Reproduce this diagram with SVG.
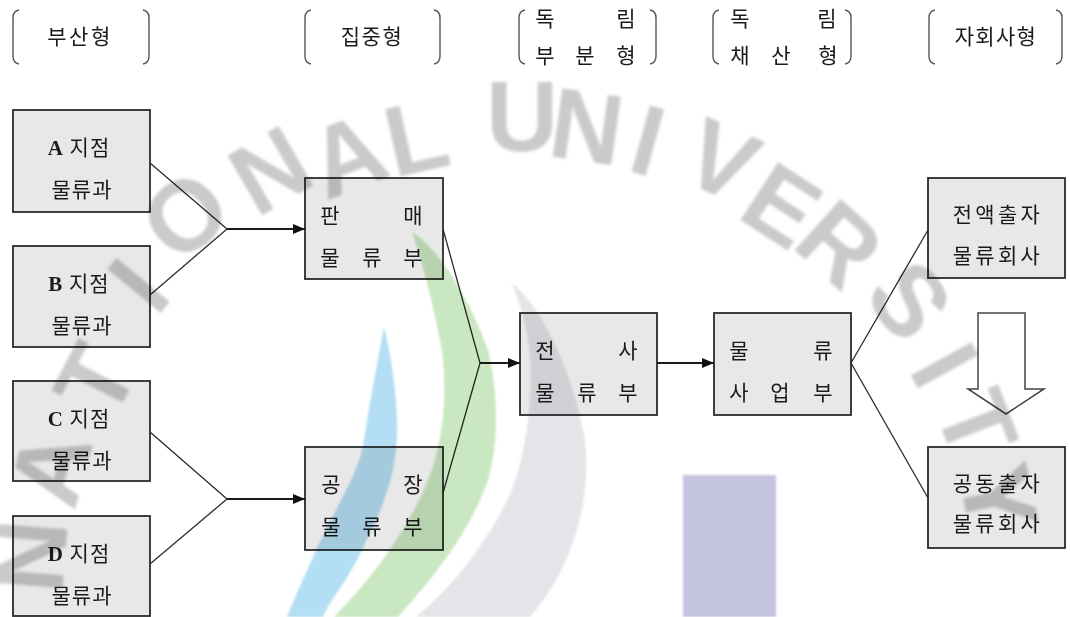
<svg xmlns="http://www.w3.org/2000/svg" width="1070" height="617" viewBox="0 0 1070 617">
  <defs>
    <style>
      .box { fill: #e8e8e8; stroke: #2b2b2b; stroke-width: 1.8; }
      .t { font-family: "Noto Sans CJK KR", "Noto Sans", sans-serif; font-size: 21px; fill: #1a1a1a; }
      .lat { font-family: "Liberation Serif", serif; font-weight: bold; }
      .mid { text-anchor: middle; }
      .brk { fill: none; stroke: #555; stroke-width: 1.4; }
      .ln { fill: none; stroke: #2b2b2b; stroke-width: 1.3; }
      .arr { fill: none; stroke: #1a1a1a; stroke-width: 1.8; marker-end: url(#head); }
      .wm { font-family: "Liberation Sans", sans-serif; font-weight: bold; font-size: 100px; fill: #cacaca; text-anchor: middle; }
    </style>
    <marker id="head" viewBox="0 0 12 10" refX="12" refY="5" markerWidth="12" markerHeight="10" markerUnits="userSpaceOnUse" orient="auto">
      <path d="M0,0 L12,5 L0,10 Z" fill="#111"/>
    </marker>
    <filter id="soft" x="-10%" y="-10%" width="120%" height="120%">
      <feGaussianBlur stdDeviation="1.6"/>
    </filter>
    <filter id="soft2" x="-10%" y="-10%" width="120%" height="120%">
      <feGaussianBlur stdDeviation="1"/>
    </filter>
  </defs>

  <rect width="1070" height="617" fill="#ffffff"/>

  <!-- column headings -->
  <g id="headings">
    <g id="head-dispersed">
      <path class="brk" d="M19,10 Q13,11 13,18 L13,56 Q13,63 19,64"/>
      <path class="brk" d="M143,10 Q149,11 149,18 L149,56 Q149,63 143,64"/>
      <text class="t mid" x="80" y="43.5" letter-spacing="2.5">부산형</text>
    </g>
    <g id="head-centralized">
      <path class="brk" d="M311,10 Q305,11 305,18 L305,56 Q305,63 311,64"/>
      <path class="brk" d="M434,10 Q440,11 440,18 L440,56 Q440,63 434,64"/>
      <text class="t mid" x="372" y="43.5" letter-spacing="1.5">집중형</text>
    </g>
    <g id="head-independent-division">
      <path class="brk" d="M525,10 Q519,11 519,18 L519,56 Q519,63 525,64"/>
      <path class="brk" d="M650,10 Q656,11 656,18 L656,56 Q656,63 650,64"/>
      <text class="t mid" x="545 626" y="25.5">독림</text>
      <text class="t mid" x="545 585 626" y="62.5">부분형</text>
    </g>
    <g id="head-independent-profit">
      <path class="brk" d="M719,10 Q713,11 713,18 L713,56 Q713,63 719,64"/>
      <path class="brk" d="M845,10 Q851,11 851,18 L851,56 Q851,63 845,64"/>
      <text class="t mid" x="740 827" y="25.5">독림</text>
      <text class="t mid" x="740 781 828" y="62.5">채산형</text>
    </g>
    <g id="head-subsidiary">
      <path class="brk" d="M935,10 Q929,11 929,18 L929,56 Q929,63 935,64"/>
      <path class="brk" d="M1056,10 Q1062,11 1062,18 L1062,56 Q1062,63 1056,64"/>
      <text class="t mid" x="996" y="43.5" letter-spacing="1.3">자회사형</text>
    </g>
  </g>

  <!-- branch logistics sections -->
  <g id="branch-a">
    <rect class="box" x="13" y="110" width="137" height="102"/>
    <text class="t mid" x="79" y="154.5" letter-spacing="1"><tspan class="lat">A</tspan> 지점</text>
    <text class="t mid" x="82" y="196.5" letter-spacing="1">물류과</text>
  </g>
  <g id="branch-b">
    <rect class="box" x="13" y="246" width="137" height="101"/>
    <text class="t mid" x="79" y="290.5" letter-spacing="1"><tspan class="lat">B</tspan> 지점</text>
    <text class="t mid" x="82" y="332.5" letter-spacing="1">물류과</text>
  </g>
  <g id="branch-c">
    <rect class="box" x="13" y="381" width="137" height="100"/>
    <text class="t mid" x="79" y="425.5" letter-spacing="1"><tspan class="lat">C</tspan> 지점</text>
    <text class="t mid" x="82" y="467.5" letter-spacing="1">물류과</text>
  </g>
  <g id="branch-d">
    <rect class="box" x="13" y="516" width="137" height="100"/>
    <text class="t mid" x="79" y="560.5" letter-spacing="1"><tspan class="lat">D</tspan> 지점</text>
    <text class="t mid" x="82" y="602.5" letter-spacing="1">물류과</text>
  </g>

  <!-- centralized departments -->
  <g id="sales-logistics">
    <rect class="box" x="305" y="178" width="138" height="101"/>
    <text class="t mid" x="330 413" y="222.5">판매</text>
    <text class="t mid" x="330 372 413" y="264.5">물류부</text>
  </g>
  <g id="plant-logistics">
    <rect class="box" x="305" y="447" width="138" height="103"/>
    <text class="t mid" x="331 413" y="491.5">공장</text>
    <text class="t mid" x="331 372 413" y="533.5">물류부</text>
  </g>

  <!-- company-wide and business division -->
  <g id="corporate-logistics">
    <rect class="box" x="520" y="313" width="137" height="102"/>
    <text class="t mid" x="545 628" y="357.5">전사</text>
    <text class="t mid" x="545 587 628" y="399.5">물류부</text>
  </g>
  <g id="logistics-business">
    <rect class="box" x="714" y="313" width="137" height="102"/>
    <text class="t mid" x="739 823" y="357.5">물류</text>
    <text class="t mid" x="739 780 823" y="399.5">사업부</text>
  </g>

  <!-- subsidiaries -->
  <g id="wholly-owned">
    <rect class="box" x="928" y="178" width="137" height="100"/>
    <text class="t mid" x="998" y="221.5" letter-spacing="3.3">전액출자</text>
    <text class="t mid" x="998" y="262.5" letter-spacing="3.3">물류회사</text>
  </g>
  <g id="joint-venture">
    <rect class="box" x="928" y="447" width="137" height="101"/>
    <text class="t mid" x="998" y="490.5" letter-spacing="3.3">공동출자</text>
    <text class="t mid" x="998" y="530.5" letter-spacing="3.3">물류회사</text>
  </g>

  <!-- transition arrow between subsidiary types -->
  <g id="transition-arrow">
    <path d="M978,313 L1025,313 L1025,389 L1044,389 L1006,414 L968,389 L978,389 Z" fill="#ffffff" stroke="#444" stroke-width="1.5" stroke-linejoin="miter"/>
  </g>

  <!-- connectors -->
  <g id="connectors">
    <path class="ln" d="M150,163 L227,229 M150,295 L227,229"/>
    <path class="arr" d="M227,229 L305,229"/>
    <path class="ln" d="M150,432 L227,499 M150,564 L227,499"/>
    <path class="arr" d="M227,499 L305,499"/>
    <path class="ln" d="M443,229 L480,363 M443,493 L480,363"/>
    <path class="arr" d="M480,363 L520,363"/>
    <path class="arr" d="M657,363 L714,363"/>
    <path class="ln" d="M851,363 L928,230 M851,363 L928,498"/>
  </g>

  <!-- background emblem printed over the page -->
  <g id="emblem" style="mix-blend-mode:multiply" filter="url(#soft2)">
    <path d="M512,283 C545,310 575,380 585,440 C592,500 572,570 530,617 L416,617 C450,590 490,540 512,490 C530,440 534,380 528,340 C524,315 518,300 512,283 Z" fill="#e3e5e8"/>
    <path d="M412,232 C440,250 470,300 488,350 C500,400 497,450 488,480 C470,530 440,570 398,617 L334,617 C370,580 410,530 432,470 C445,430 448,380 440,340 C432,300 422,260 412,232 Z" fill="#c9e7c0"/>
    <path d="M384,327 C392,360 400,410 396,450 C390,500 370,530 362,550 C348,580 330,600 323,617 L287,617 C300,585 312,560 316,550 C340,500 360,470 364,440 C370,400 378,360 384,327 Z" fill="#b3def3"/>
    <rect x="683" y="475" width="93" height="142" fill="#c4c4e0"/>
  </g>

  <g id="emblem-lettering" style="mix-blend-mode:multiply" filter="url(#soft)">
    <text class="wm" transform="translate(30,556) rotate(-85.5)" y="35">N</text>
    <text class="wm" transform="translate(50,468) rotate(-74.7)" y="35">A</text>
    <text class="wm" transform="translate(95,380) rotate(-62.6)" y="35">T</text>
    <text class="wm" transform="translate(138,285) rotate(-50.5)" y="35">I</text>
    <text class="wm" transform="translate(185,215) rotate(-41)" y="35">O</text>
    <text class="wm" transform="translate(270,170) rotate(-30.2)" y="35">N</text>
    <text class="wm" transform="translate(347,155) rotate(-21.2)" y="35">A</text>
    <text class="wm" transform="translate(416,137) rotate(-12.7)" y="35">L</text>
    <text class="wm" transform="translate(522,116) rotate(0)" y="35">U</text>
    <text class="wm" transform="translate(587,126) rotate(8)" y="35">N</text>
    <text class="wm" transform="translate(648,140) rotate(15.5)" y="35">I</text>
    <text class="wm" transform="translate(722,160) rotate(24)" y="35">V</text>
    <text class="wm" transform="translate(782,205) rotate(33)" y="35">E</text>
    <text class="wm" transform="translate(840,244) rotate(42)" y="35">R</text>
    <text class="wm" transform="translate(910,300) rotate(53)" y="35">S</text>
    <text class="wm" transform="translate(945,365) rotate(61)" y="35">I</text>
    <text class="wm" transform="translate(977,424) rotate(69)" y="35">T</text>
    <text class="wm" transform="translate(999,498) rotate(78)" y="35">Y</text>
  </g>
</svg>
